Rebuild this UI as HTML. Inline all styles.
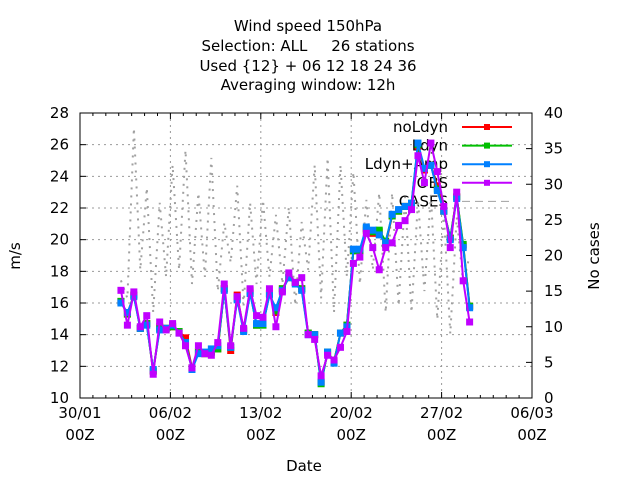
<!DOCTYPE html>
<html><head><meta charset="utf-8"><style>
body{margin:0;background:#fff}
svg text{font-family:"DejaVu Sans","Liberation Sans",sans-serif;font-size:15px;fill:#000}
.pre{white-space:pre}
</style></head><body>
<svg id="c" width="640" height="480" xmlns="http://www.w3.org/2000/svg">
<g text-anchor="middle">
<text x="308" y="31">Wind speed 150hPa</text>
<text class="pre" xml:space="preserve" x="308" y="51">Selection: ALL     26 stations</text>
<text x="308" y="71">Used {12} + 06 12 18 24 36</text>
<text x="308" y="90">Averaging window: 12h</text>
</g>
<text transform="translate(20,256) rotate(-90)" text-anchor="middle">m/s</text>
<text transform="translate(599,256) rotate(-90)" text-anchor="middle">No cases</text>
<text x="304" y="471" text-anchor="middle">Date</text>
<g id="grid"></g><g id="ticks"></g><g id="legend"></g><g id="series"></g>
<rect x="80" y="113" width="452" height="285" fill="none" stroke="#000" stroke-width="1"/>
</svg>
<script>
const xTickLabels=["30/01","06/02","13/02","20/02","27/02","06/03"];
const yTicks=[10,12,14,16,18,20,22,24,26,28];
const y2Ticks=[0,5,10,15,20,25,30,35,40];
const startDay=3.17;
const obs=[16.8,14.6,16.7,14.5,15.2,11.5,14.8,14.3,14.7,14.1,13.3,11.9,13.3,12.8,12.7,13.5,17.2,13.3,16.4,14.4,16.9,15.2,15.1,16.9,14.5,16.7,17.9,17.3,17.6,14.0,13.7,11.4,12.7,12.4,13.2,14.2,18.5,18.9,20.4,19.5,18.1,19.5,19.8,20.9,21.2,21.9,25.3,23.6,26.1,24.3,22.1,19.5,23.0,17.4,14.8];
const ldynp=[16.0,15.4,16.4,14.4,14.6,11.8,14.3,14.4,14.6,14.1,13.5,11.8,12.8,12.9,13.1,13.3,16.8,13.2,16.2,14.2,16.6,14.7,14.7,16.5,15.7,16.8,17.6,17.2,16.8,14.0,14.0,11.0,12.9,12.2,14.1,14.5,19.4,19.4,20.8,20.6,20.3,19.8,21.6,21.9,22.1,22.3,26.1,24.5,24.7,23.1,21.8,20.0,22.6,19.5,15.7];
const ldyn=[16.1,15.3,16.5,14.4,14.7,11.7,14.4,14.4,14.5,14.2,13.5,11.9,12.9,12.8,12.9,13.1,16.9,13.2,16.3,14.3,16.7,14.6,14.6,16.6,15.5,16.9,17.6,17.3,16.9,14.1,14.0,10.9,12.9,12.3,14.1,14.6,19.3,19.3,20.7,20.5,20.6,19.9,21.5,21.8,22.1,22.3,26.0,24.5,24.7,23.2,21.8,20.1,22.7,19.7,15.8];
const noldyn=[16.1,15.3,16.5,14.4,14.7,11.7,14.5,14.4,14.5,14.2,13.8,11.9,12.9,12.8,12.9,13.1,16.9,13.0,16.5,14.3,16.8,14.6,14.7,16.6,15.4,16.9,17.6,17.3,16.9,14.1,14.0,11.0,12.9,12.3,14.1,14.6,19.3,19.3,20.6,20.4,20.5,19.7,21.5,21.8,22.1,22.2,25.9,24.4,24.7,23.4,21.8,20.1,22.7,19.6,15.8];
const cases=[16.5,14,37.9,18,29.5,12,27.4,17,32.7,18,34.8,16,28.8,17,33.7,15,24.6,19,29.8,13,27.4,16,27.8,17,25.7,16,26.8,13,24.7,18,32.7,14,33.7,12,32.7,17,31.7,16,27.8,18,28.8,12,28.8,13,28.2,12,27.8,15,28.5,11,26,9,25.4,16,20];
const NS="http://www.w3.org/2000/svg";
const L=80,R=532,T=113,B=398;
const X=d=>L+d/35*(R-L);
const Y=v=>B-(v-10)/18*(B-T);
const Y2=v=>B-v/40*(B-T);
function mk(tag,at,parent){const e=document.createElementNS(NS,tag);for(const k in at)e.setAttribute(k,at[k]);parent.appendChild(e);return e;}
const grid=document.getElementById('grid'),ticks=document.getElementById('ticks');
xTickLabels.forEach((lab,i)=>{const x=X(i*7);
 if(i>0&&i<5){const g=mk('line',{x1:x,x2:x,y1:T,y2:B,stroke:'#999','stroke-dasharray':'2,4'},grid);
 
 }
 const t=mk('text',{x:x,y:B+20,'text-anchor':'middle'},ticks);t.textContent=lab;
 
 
 const t2=mk('text',{x:x,y:B+42,'text-anchor':'middle'},ticks);t2.textContent='00Z';
 
 
 mk('line',{x1:x,x2:x,y1:B,y2:B-6,stroke:'#000'},ticks);mk('line',{x1:x,x2:x,y1:T,y2:T+6,stroke:'#000'},ticks);});
for(let d=1;d<35;d++){if(d%7){const x=X(d);mk('line',{x1:x,x2:x,y1:B,y2:B-3,stroke:'#000'},ticks);mk('line',{x1:x,x2:x,y1:T,y2:T+3,stroke:'#000'},ticks);}}
yTicks.forEach(v=>{const y=Y(v);
 if(v>10&&v<28){const g=mk('line',{x1:L,x2:R,y1:y,y2:y,stroke:'#999','stroke-dasharray':'2,4'},grid);
 
 }
 mk('line',{x1:L,x2:L+6,y1:y,y2:y,stroke:'#000'},ticks);
 const t=mk('text',{x:L-11,y:y+5,'text-anchor':'end'},ticks);t.textContent=v;
 
 });
y2Ticks.forEach(v=>{const y=Y2(v);
 mk('line',{x1:R,x2:R-6,y1:y,y2:y,stroke:'#000'},ticks);
 const t=mk('text',{x:R+12,y:y+5,'text-anchor':'start'},ticks);t.textContent=v;
 
 });
const leg=document.getElementById('legend');
const legItems=[["noLdyn","#ff0000",1],["Ldyn","#00c000",1],["Ldyn+Amp","#0080ff",1],["OBS","#c000ff",1],["CASES","#a0a0a0",0]];
legItems.forEach((it,i)=>{const y=127+i*18.6;
 const t=mk('text',{x:448,y:y+5,'text-anchor':'end'},leg);t.textContent=it[0];
 
 
 if(it[2]){mk('line',{x1:462,x2:512,y1:y,y2:y,stroke:it[1],'stroke-width':2},leg);mk('rect',{x:484,y:y-3,width:6,height:6,fill:it[1]},leg);}
 else mk('line',{x1:462,x2:512,y1:y,y2:y,stroke:it[1],'stroke-width':1,'stroke-dasharray':'8,5'},leg);});
const ser=document.getElementById('series');
const cp=cases.map((v,k)=>X(startDay+0.5*k).toFixed(1)+','+Y2(v).toFixed(1)).join(' ');
const cl=mk('polyline',{points:cp,fill:'none',stroke:'#a0a0a0','stroke-width':2,'stroke-dasharray':'2,6'},ser);


function drawSeries(arr,col,name){
 const pts=arr.map((v,k)=>X(startDay+0.5*k).toFixed(1)+','+Y(v).toFixed(1)).join(' ');
 const pl=mk('polyline',{points:pts,fill:'none',stroke:col,'stroke-width':2},ser);
 
 
 arr.forEach((v,k)=>{const r=mk('rect',{x:X(startDay+0.5*k)-3.5,y:Y(v)-3.5,width:7,height:7,fill:col},ser);
  
  });
}
drawSeries(noldyn,'#ff0000','noldyn');
drawSeries(ldyn,'#00c000','ldyn');
drawSeries(ldynp,'#0080ff','ldyn-amp');
drawSeries(obs,'#c000ff','obs');
</script>
</body></html>
